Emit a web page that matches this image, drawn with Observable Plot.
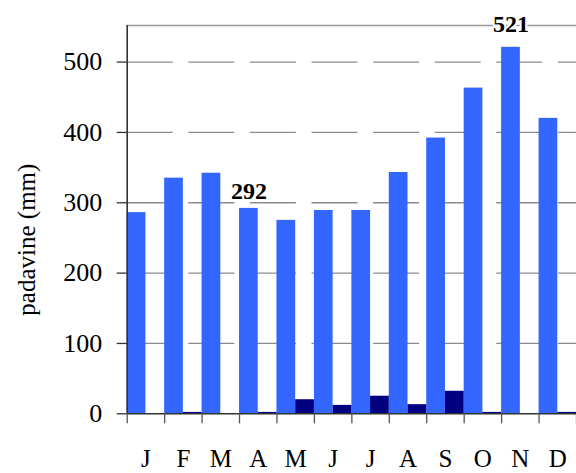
<!DOCTYPE html>
<html><head><meta charset="utf-8">
<script src="https://cdn.jsdelivr.net/npm/d3@7"></script>
<script src="https://cdn.jsdelivr.net/npm/@observablehq/plot@0.6"></script>
<style>body{margin:0;background:#fff;}</style>
</head><body><div id="chart"></div>
<script>
const months = ["J","F","M","A","M","J","J","A","S","O","N","D"];
const rain = [286, 335, 342, 292, 275, 289, 289, 343, 392, 463, 521, 420];
const other = [0, 2, 0, 2, 20, 12, 25, 13, 32, 2, 0, 2];
const yTicks = [0, 100, 200, 300, 400, 500];
const yMax = 552;
const yLabel = "padavine (mm)";
const labelLow = [3];   // month index of labelled bar "292"
const labelHigh = [10]; // month index of labelled bar "521"

const rows = months.map((m, i) => ({i, m, rain: rain[i], other: other[i]}));
const serif = "'Liberation Serif', 'Times New Roman', serif";

const chart = Plot.plot({
  width: 576, height: 473,
  marginLeft: 126.7, marginRight: 0, marginTop: 25, marginBottom: 59.7,
  style: {fontFamily: serif, background: "white", color: "#000"},
  x: {domain: [0, 12]},
  y: {domain: [0, yMax]},
  marks: [
    Plot.ruleY(yTicks.filter(v => v > 0), {stroke: "#8c8c8c", strokeWidth: 1.3, strokeDasharray: "46,15.6"}),
    Plot.ruleY([yMax], {stroke: "#999", strokeWidth: 1.3}),
    Plot.rect(rows, {x1: d => d.i, x2: d => d.i + 0.5, y1: 0, y2: "rain", fill: "#3366FF"}),
    Plot.rect(rows, {x1: d => d.i + 0.5, x2: d => d.i + 1, y1: 0, y2: "other", fill: "#000080"}),
    Plot.ruleY([0], {stroke: "#333", strokeWidth: 1.6}),
    Plot.ruleX([0], {stroke: "#333", strokeWidth: 1.6}),
    Plot.axisY({ticks: yTicks, tickSize: 10, tickPadding: 15, fontSize: 26, label: null, stroke: "#333", strokeWidth: 1.3}),
    Plot.axisX({ticks: d3.range(13), tickSize: 10, tickFormat: () => "", label: null, stroke: "#555", strokeWidth: 1.3}),
    Plot.axisX({ticks: months.map((m, i) => i + 0.5), tickSize: 0, tickPadding: 35, tickFormat: d => months[Math.floor(d)], fontSize: 25, label: null}),
    Plot.text([yLabel], {text: d => d, frameAnchor: "left", rotate: -90, textAnchor: "middle", lineAnchor: "bottom", dx: -92.7, dy: 20, fontSize: 25}),
    Plot.text(labelLow, {x: i => i + 0.25, y: i => rain[i], text: i => String(rain[i]), dy: -9, lineAnchor: "bottom", fontWeight: "bold", fontSize: 24, fill: "black", stroke: "white", strokeWidth: 4, paintOrder: "stroke"}),
    Plot.text(labelHigh, {x: i => i + 0.25, y: i => rain[i], text: i => String(rain[i]), dy: -15, lineAnchor: "bottom", fontWeight: "bold", fontSize: 24, fill: "black", stroke: "white", strokeWidth: 4, paintOrder: "stroke"})
  ]
});
document.getElementById("chart").appendChild(chart);
</script>
</body></html>
